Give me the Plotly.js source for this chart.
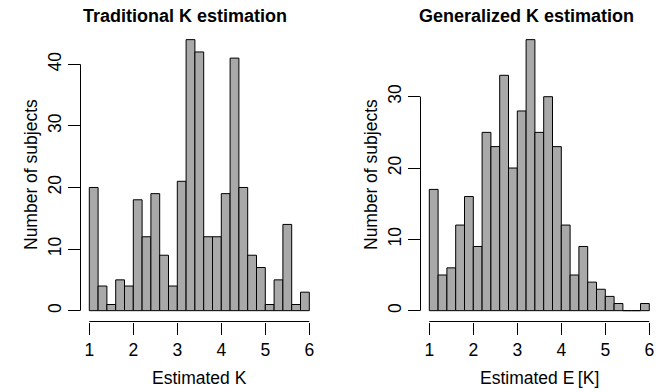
<!DOCTYPE html>
<html>
<head>
<meta charset="utf-8">
<script src="https://cdn.plot.ly/plotly-3.0.1.min.js"></script>
<style>html,body{margin:0;padding:0;background:#fff;}#chart{width:672px;height:392px;}</style>
</head>
<body>
<div id="chart"></div>
<script>
// ---- data ----
var binStart = 1.0;
var binWidth = 0.2;
var traditionalCounts = [20,4,1,5,4,18,12,19,9,4,21,44,42,12,12,19,41,20,9,7,1,5,14,1,3];
var generalizedCounts = [17,5,6,12,16,9,25,23,33,20,28,38,25,30,23,12,5,9,4,3,2,1,0,0,1];
var xTicks = [1,2,3,4,5,6];
var yTicksLeft = [0,10,20,30,40];
var yTicksRight = [0,10,20,30];
var titles = ["Traditional K estimation", "Generalized K estimation"];
var xLabels = ["Estimated K", "Estimated E\u2009[K]"];
var yLabel = "Number of subjects";

function centers(counts){
  return counts.map(function(_, i){ return binStart + binWidth*(i+0.5); });
}
function rangeExt(lo, hi){ var d=(hi-lo)*0.04; return [lo-d, hi+d]; }

var W=672, H=392;
var fontFam = "Liberation Sans, Arial, sans-serif";
var barStyle = {color:'#A9A9A9', line:{color:'#000', width:1}};

var t1 = {type:'bar', x:centers(traditionalCounts), y:traditionalCounts, width:binWidth,
  marker:barStyle, xaxis:'x', yaxis:'y', hoverinfo:'skip'};
var t2 = {type:'bar', x:centers(generalizedCounts), y:generalizedCounts, width:binWidth,
  marker:barStyle, xaxis:'x2', yaxis:'y2', hoverinfo:'skip'};

var xr = rangeExt(xTicks[0], xTicks[xTicks.length-1]);
var yr1 = rangeExt(0, Math.max.apply(null, traditionalCounts));
var yr2 = rangeExt(0, Math.max.apply(null, generalizedCounts));

var yDom = [(H-321.5)/H, (H-28.8)/H];
function xax(dom){
  return {domain:dom, range:xr, tickvals:xTicks, ticktext:xTicks.map(String), ticks:'outside', ticklen:12,
    tickcolor:'#000', tickwidth:1, showline:false, showgrid:false, zeroline:false, fixedrange:true,
    tickfont:{family:fontFam, size:17.5, color:'#000'}};
}
function yax(rng, ticks, anchor){
  return {domain:yDom, range:rng, tickvals:ticks, ticktext:ticks.map(String), ticks:'outside', ticklen:12,
    tickcolor:'#000', tickwidth:1, tickangle:-90, showline:false, showgrid:false, zeroline:false,
    anchor:anchor, fixedrange:true, tickfont:{family:fontFam, size:17.5, color:'#000'}};
}

var shapes = [];
[['x','y',yTicksLeft],['x2','y2',yTicksRight]].forEach(function(p){
  shapes.push({type:'line', xref:p[0], yref:p[1]+' domain', x0:xTicks[0], x1:xTicks[xTicks.length-1], y0:0, y1:0,
    line:{color:'#000', width:1}});
  shapes.push({type:'line', xref:p[0]+' domain', yref:p[1], x0:0, x1:0, y0:p[2][0], y1:p[2][p[2].length-1],
    line:{color:'#000', width:1}});
});

function ann(text, xpx, ypx, size, bold, angle){
  return {text: bold ? '<b>'+text+'</b>' : text, xref:'paper', yref:'paper', x:xpx/W, y:1-ypx/H,
    xanchor:'center', yanchor:'middle', showarrow:false, textangle:angle||0,
    font:{family:fontFam, size:size, color:'#000'}};
}
var annotations = [
  ann(titles[0], 185, 16.5, 18, true),
  ann(titles[1], 526, 16.5, 18, true),
  ann(xLabels[0], 199.3, 378, 17.5, false),
  ann(xLabels[1], 539.3, 378, 17.5, false),
  ann(yLabel, 31, 175, 17.5, false, -90),
  ann(yLabel, 371, 175, 17.5, false, -90)
];

var layout = {
  width:W, height:H, margin:{l:0,r:0,t:0,b:0}, paper_bgcolor:'#fff', plot_bgcolor:'#fff',
  showlegend:false, bargap:0,
  xaxis: Object.assign(xax([80.5/W, 318.1/W]), {anchor:'y'}),
  yaxis: yax(yr1, yTicksLeft, 'x'),
  xaxis2: Object.assign(xax([420.5/W, 658.1/W]), {anchor:'y2'}),
  yaxis2: yax(yr2, yTicksRight, 'x2'),
  shapes: shapes,
  annotations: annotations
};
Plotly.newPlot('chart', [t1, t2], layout, {staticPlot:true, displayModeBar:false});
</script>
</body>
</html>
